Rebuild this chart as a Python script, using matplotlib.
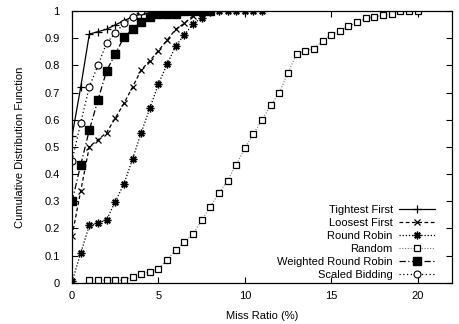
import matplotlib.pyplot as plt

plt.rcParams['font.family'] = ['Liberation Sans', 'DejaVu Sans']

# CDF of miss ratio (%) for each scheduling policy
x_tight = [0, 0.5, 1, 1.5, 2, 2.5, 3, 3.5, 4, 4.5, 5, 5.5, 6]
y_tight = [0.54, 0.72, 0.915, 0.924, 0.933, 0.949, 0.964, 0.979, 0.989, 0.994, 0.997, 1.0, 1.0]

x_loose = [0, 0.5, 1, 1.5, 2, 2.5, 3, 3.5, 4, 4.5, 5, 5.5, 6, 6.5, 7, 7.5, 8]
y_loose = [0.173, 0.338, 0.501, 0.526, 0.553, 0.606, 0.66, 0.72, 0.783, 0.817, 0.854,
           0.893, 0.933, 0.955, 0.982, 0.997, 1.0]

x_rr = [0, 0.5, 1, 1.5, 2, 2.5, 3, 3.5, 4, 4.5, 5, 5.5, 6, 6.5, 7, 7.5, 8,
        8.5, 9, 9.5, 10, 10.5, 11]
y_rr = [0.005, 0.109, 0.211, 0.219, 0.232, 0.299, 0.363, 0.455, 0.552, 0.642, 0.732,
        0.804, 0.871, 0.913, 0.952, 0.976, 0.997, 1.0, 1.0, 1.0, 1.0, 1.0, 1.0]

x_rand = [1, 1.5, 2, 2.5, 3, 3.5, 4, 4.5, 5, 5.5, 6, 6.5, 7, 7.5, 8, 8.5, 9, 9.5, 10,
          10.5, 11, 11.5, 12, 12.5, 13, 13.5, 14, 14.5, 15, 15.5, 16, 16.5, 17, 17.5,
          18, 18.5, 19, 19.5, 20]
y_rand = [0.01, 0.01, 0.01, 0.01, 0.01, 0.023, 0.033, 0.04, 0.051, 0.085, 0.12, 0.15,
          0.18, 0.23, 0.28, 0.33, 0.376, 0.435, 0.495, 0.548, 0.60, 0.653, 0.70, 0.773,
          0.842, 0.853, 0.861, 0.89, 0.913, 0.927, 0.944, 0.958, 0.973, 0.979, 0.984,
          0.99, 1.0, 1.0, 1.0]

x_wrr = [0, 0.5, 1, 1.5, 2, 2.5, 3, 3.5, 4, 4.5, 5, 5.5, 6, 6.5, 7, 7.5, 8]
y_wrr = [0.30, 0.434, 0.562, 0.673, 0.78, 0.842, 0.903, 0.933, 0.96, 0.979, 0.99,
         0.99, 0.99, 1.0, 1.0, 1.0, 1.0]

x_sb = [0, 0.5, 1, 1.5, 2, 2.5, 3, 3.5, 4]
y_sb = [0.45, 0.588, 0.722, 0.80, 0.883, 0.918, 0.955, 0.979, 1.0]

fig = plt.figure(figsize=(4.59, 3.24), dpi=100)
ax = fig.add_axes([0.157, 0.127, 0.828, 0.839])

ax.plot(x_tight, y_tight, color='black', lw=0.9, ls='-', marker='+', ms=6, mew=0.9,
        label='Tightest First')
ax.plot(x_loose, y_loose, color='black', lw=0.9, ls=(0, (3, 2)), marker='x', ms=5, mew=0.9,
        label='Loosest First')
ax.plot(x_rr, y_rr, color='black', lw=0.9, ls=(0, (1, 1.5)), marker=(8, 2, 0), ms=5.5, mew=1.0,
        label='Round Robin')
ax.plot(x_rand, y_rand, color='#777777', lw=0.8, ls=(0, (1, 1.5)), marker='s', ms=5,
        mfc='white', mec='black', mew=0.9, label='Random')
ax.plot(x_wrr, y_wrr, color='black', lw=0.9, ls=(0, (5, 2, 1, 2)), marker='s', ms=5.2,
        mfc='black', mec='black', label='Weighted Round Robin')
ax.plot(x_sb, y_sb, color='black', lw=0.9, ls=(0, (1, 2)), marker='o', ms=5,
        mfc='white', mec='black', mew=0.8, label='Scaled Bidding')

ax.set_xlim(0, 22)
ax.set_ylim(0, 1)
ax.set_xticks([0, 5, 10, 15, 20])
ax.set_yticks([0, 0.1, 0.2, 0.3, 0.4, 0.5, 0.6, 0.7, 0.8, 0.9, 1])
ax.set_yticklabels(['0', '0.1', '0.2', '0.3', '0.4', '0.5', '0.6', '0.7', '0.8', '0.9', '1'])
ax.tick_params(direction='in', top=True, right=True, length=4, width=0.8, labelsize=8)
ax.tick_params(axis='y', pad=9)
ax.tick_params(axis='x', pad=6)
for s in ax.spines.values():
    s.set_linewidth(0.9)

ax.set_xlabel('Miss Ratio (%)', fontsize=8, labelpad=7)
ax.set_ylabel('Cumulative Distribution Function', fontsize=8, labelpad=14)

ax.legend(loc='lower right', bbox_to_anchor=(0.955, 0.012), markerfirst=False,
          frameon=False, fontsize=8, handlelength=3.2, labelspacing=0.27,
          borderaxespad=0, borderpad=0, handletextpad=0.6)

fig.savefig('out.png', dpi=100)
